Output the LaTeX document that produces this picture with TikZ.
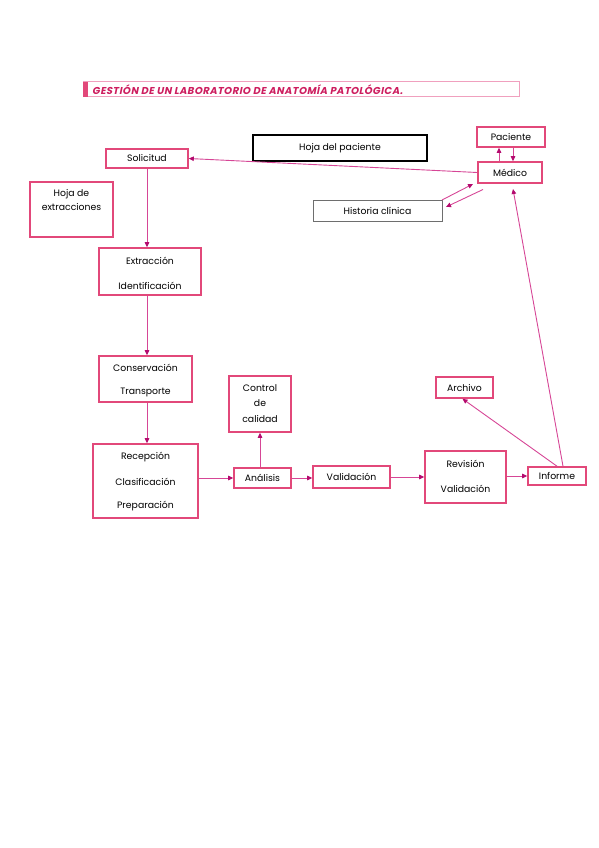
\documentclass[tikz,border=0pt]{standalone}
\usepackage{fontspec}
\setmainfont{Poppins}
\newfontfamily\titlefont{Poppins}[FakeSlant=0.2]
\usetikzlibrary{arrows.meta}
\definecolor{boxpink}{RGB}{226,72,122}
\definecolor{linepink}{RGB}{214,70,150}
\definecolor{tippink}{RGB}{180,10,110}
\definecolor{titlepink}{RGB}{205,30,95}
\definecolor{titleline}{RGB}{240,160,190}
\definecolor{histgray}{RGB}{110,110,110}
\begin{document}
\begin{tikzpicture}[x=1pt,y=-1pt,
  every node/.style={font=\fontsize{9.3}{11}\selectfont},
  pbox/.style={draw=boxpink,line width=1.6pt,inner sep=0pt},
  flow/.style={draw=linepink,line width=0.9pt,-{Triangle[length=5pt,width=4.5pt,fill=tippink,color=tippink]}},
  lbl/.style={inner sep=0pt,anchor=center}
]
\useasboundingbox (0,0) rectangle (599,848);
% title
\draw[draw=titleline,line width=1pt] (83,82) rectangle (519,97);
\fill[boxpink] (83,82) rectangle (87.5,97);
\node[anchor=west,inner sep=0pt,text=titlepink,font=\fontsize{10}{11}\titlefont\bfseries\addfontfeatures{LetterSpace=4.5}] (title) at (92,89.5) {GESTIÓN DE UN LABORATORIO DE ANATOMÍA PATOLÓGICA.};
% boxes
\node[pbox,minimum width=82pt,minimum height=19pt] (sol) at (147,158.5) {};
\node[lbl] at (sol) {Solicitud};
\node[draw=black,line width=1.6pt,minimum width=174pt,minimum height=26pt,inner sep=0pt] (hoja) at (340,148) {};
\node[lbl] at (hoja) {Hoja del paciente};
\node[pbox,minimum width=68pt,minimum height=20pt] (pac) at (511,137) {};
\node[lbl] at (pac) {Paciente};
\node[pbox,minimum width=64pt,minimum height=21pt] (med) at (510,172.5) {};
\node[lbl] at (med) {Médico};
\node[draw=histgray,line width=1pt,minimum width=129pt,minimum height=21pt,inner sep=0pt] (hist) at (377.5,210.5) {};
\node[lbl] at (hist) {Historia clínica};
\node[pbox,minimum width=83pt,minimum height=55pt] (hext) at (71.5,209.5) {};
\node[lbl] at (71.5,194) {Hoja de};
\node[lbl] at (71.5,207.5) {extracciones};
\node[pbox,minimum width=102pt,minimum height=47pt] (ext) at (150,271.5) {};
\node[lbl] at (150,260.5) {Extracción};
\node[lbl] at (150,286) {Identificación};
\node[pbox,minimum width=93pt,minimum height=46pt] (cons) at (145.5,379) {};
\node[lbl] at (145.5,367.5) {Conservación};
\node[lbl] at (145.5,392.5) {Transporte};
\node[pbox,minimum width=105pt,minimum height=74pt] (rec) at (145.5,481) {};
\node[lbl] at (145.5,457) {Recepción};
\node[lbl] at (145.5,481.5) {Clasificación};
\node[lbl] at (145.5,506.5) {Preparación};
\node[pbox,minimum width=62pt,minimum height=56pt] (ctrl) at (260,404) {};
\node[lbl] at (260,388.5) {Control};
\node[lbl] at (260,403.5) {de};
\node[lbl] at (260,418.5) {calidad};
\node[pbox,minimum width=57pt,minimum height=20pt] (ana) at (262.5,478) {};
\node[lbl] at (ana) {Análisis};
\node[pbox,minimum width=77pt,minimum height=22pt] (val) at (351.5,477) {};
\node[lbl] at (val) {Validación};
\node[pbox,minimum width=81pt,minimum height=52pt] (rev) at (465.5,477) {};
\node[lbl] at (465.5,463.5) {Revisión};
\node[lbl] at (465.5,488.5) {Validación};
\node[pbox,minimum width=57pt,minimum height=21pt] (arch) at (464.5,387.5) {};
\node[lbl] at (arch) {Archivo};
\node[pbox,minimum width=58pt,minimum height=18pt] (inf) at (557,476) {};
\node[lbl] at (inf) {Informe};
% connectors
\draw[flow] (med.west) -- (sol.east);
\draw[flow] ([xshift=-11pt]med.north) -- ([xshift=-12pt]pac.south);
\draw[flow] ([xshift=2pt]pac.south) -- ([xshift=3pt]med.north);
\coordinate (h1) at (442,200);
\coordinate (m1) at (473,184);
\coordinate (m2) at (483,189.5);
\coordinate (h2) at (446,207);
\draw[flow] (h1) -- (m1);
\draw[flow] (m2) -- (h2);
\coordinate (mb) at (513,189);
\draw[flow] ([xshift=6pt]inf.north) -- (mb);
\draw[flow] (inf.north) -- ([xshift=-2pt]arch.south);
\draw[flow] (sol.south) -- (sol.south |- ext.north);
\draw[flow] (sol.south |- ext.south) -- (sol.south |- cons.north);
\draw[flow] (sol.south |- cons.south) -- (sol.south |- rec.north);
\draw[flow] (rec.east |- ana.west) -- (ana.west);
\draw[flow] (ana.north -| ctrl.south) -- (ctrl.south);
\draw[flow] (ana.east) -- (ana.east -| val.west);
\draw[flow] (val.east) -- (val.east -| rev.west);
\draw[flow] (rev.east |- inf.west) -- (inf.west);
\end{tikzpicture}
\end{document}
